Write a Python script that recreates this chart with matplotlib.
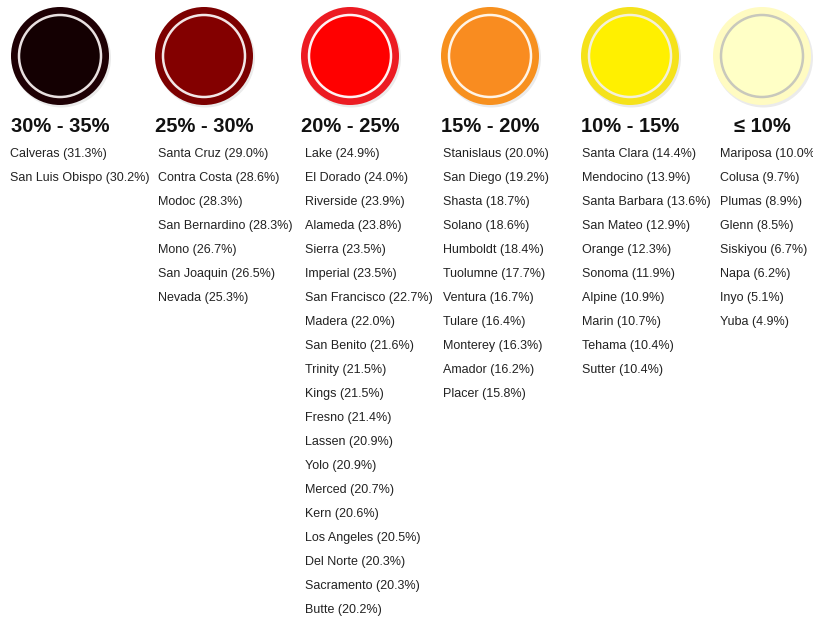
import matplotlib
matplotlib.use('Agg')
import matplotlib.pyplot as plt
from matplotlib.patches import Circle

plt.rcParams.update({
    "font.family": ["Liberation Sans", "DejaVu Sans"],
})

# ── Data ───────────────────────────────────────────────────────────────────
BINS = ["30% - 35%", "25% - 30%", "20% - 25%", "15% - 20%", "10% - 15%", "≤ 10%"]

counties_30_35 = ["Calveras", "San Luis Obispo"]
values_30_35 = [31.3, 30.2]

counties_25_30 = ["Santa Cruz", "Contra Costa", "Modoc", "San Bernardino", "Mono",
                  "San Joaquin", "Nevada"]
values_25_30 = [29.0, 28.6, 28.3, 28.3, 26.7, 26.5, 25.3]

counties_20_25 = ["Lake", "El Dorado", "Riverside", "Alameda", "Sierra", "Imperial",
                  "San Francisco", "Madera", "San Benito", "Trinity", "Kings", "Fresno",
                  "Lassen", "Yolo", "Merced", "Kern", "Los Angeles", "Del Norte",
                  "Sacramento", "Butte"]
values_20_25 = [24.9, 24.0, 23.9, 23.8, 23.5, 23.5, 22.7, 22.0, 21.6, 21.5, 21.5, 21.4,
                20.9, 20.9, 20.7, 20.6, 20.5, 20.3, 20.3, 20.2]

counties_15_20 = ["Stanislaus", "San Diego", "Shasta", "Solano", "Humboldt", "Tuolumne",
                  "Ventura", "Tulare", "Monterey", "Amador", "Placer"]
values_15_20 = [20.0, 19.2, 18.7, 18.6, 18.4, 17.7, 16.7, 16.4, 16.3, 16.2, 15.8]

counties_10_15 = ["Santa Clara", "Mendocino", "Santa Barbara", "San Mateo", "Orange",
                  "Sonoma", "Alpine", "Marin", "Tehama", "Sutter"]
values_10_15 = [14.4, 13.9, 13.6, 12.9, 12.3, 11.9, 10.9, 10.7, 10.4, 10.4]

counties_le_10 = ["Mariposa", "Colusa", "Plumas", "Glenn", "Siskiyou", "Napa", "Inyo", "Yuba"]
values_le_10 = [10.0, 9.7, 8.9, 8.5, 6.7, 6.2, 5.1, 4.9]

groups = [
    (counties_30_35, values_30_35),
    (counties_25_30, values_25_30),
    (counties_20_25, values_20_25),
    (counties_15_20, values_15_20),
    (counties_10_15, values_10_15),
    (counties_le_10, values_le_10),
]

# ── Style ──────────────────────────────────────────────────────────────────
OUTER = ["#1E0004", "#7C0000", "#EC1B22", "#F7901E", "#F5E21A", "#FFFBC2"]
INNER = ["#140002", "#830000", "#FF0000", "#F98C20", "#FFF000", "#FFFFC6"]
RING  = ["#E8E0E0", "#F2E6E6", "#FFF2F2", "#FFF4E6", "#F4F0D8", "#C8C8BC"]

COL_X    = [10, 158, 305, 443, 582, 720]
CIRCLE_X = [60, 204, 350, 490, 630, 762]
CIRCLE_Y = 56
R_OUT, R_RING = 49, 41
HEAD_Y = 127
ROW_Y0, ROW_DY = 154, 24

fig = plt.figure(figsize=(8.13, 6.2), dpi=100)
ax = fig.add_axes([0, 0, 1, 1])
ax.set_xlim(0, 813)
ax.set_ylim(620, 0)
ax.axis("off")

for i, (names, vals) in enumerate(groups):
    cx = CIRCLE_X[i]
    # soft shadow
    ax.add_patch(Circle((cx + 1.5, CIRCLE_Y + 2), R_OUT + 0.5, color="#000000",
                        alpha=0.08, lw=0))
    ax.add_patch(Circle((cx, CIRCLE_Y), R_OUT, color=OUTER[i], lw=0))
    ax.add_patch(Circle((cx, CIRCLE_Y), R_RING, facecolor=INNER[i],
                        edgecolor=RING[i], lw=1.8))

    ax.text(cx, HEAD_Y, BINS[i], ha="center", va="center", fontsize=14.5,
            fontweight="bold", color="#111111")

    for j, (name, v) in enumerate(zip(names, vals)):
        ax.text(COL_X[i], ROW_Y0 + j * ROW_DY, f"{name} ({v:.1f}%)",
                ha="left", va="center", fontsize=9, color="#222222")

fig.savefig("out.png", dpi=100)
